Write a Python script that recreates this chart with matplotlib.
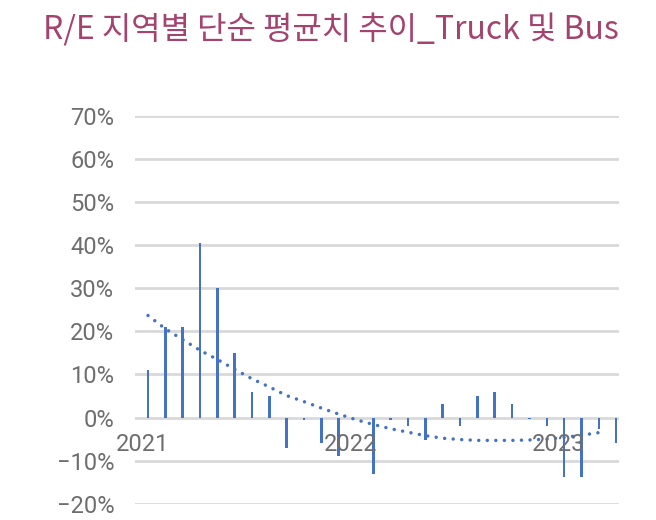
import numpy as np
import matplotlib
matplotlib.use('Agg')
import matplotlib.pyplot as plt
from matplotlib.ticker import FuncFormatter

plt.rcParams['font.family'] = ['Roboto', 'DejaVu Sans']

# monthly simple average, 2021-01 .. 2023-04 (%)
values = [11, 21, 21, 40.6, 30, 15, 6, 5,
          -7, -0.5, -5.8, -9, 0, -13, -0.6, -2, -5.2, 3.1,
          -1.9, 4.9, 6, 3.1, -0.3, -1.9, -13.8, -13.8, -2.7, -5.8]
# polynomial trend line read at each month
trend = [23.7, 20.6, 18.1, 15.6, 13.5, 11.2, 9.0, 7.1, 5.1, 3.7,
         2.2, 0.8, -0.5, -1.6, -2.6, -3.4, -4.2, -4.8, -5.1, -5.3,
         -5.3, -5.3, -5.2, -5.0, -4.6, -4.1, -3.5]
year_labels = ['2021', '2022', '2023']
year_start = [0, 12, 24]

blue = '#4472C4'
grey = '#D9D9D9'
text_grey = '#6E6E6E'

fig = plt.figure(figsize=(6.56, 5.2), dpi=100)
ax = fig.add_axes([0.2058, 0.0313, 0.7378, 0.7456])

x = np.arange(len(values))
ax.bar(x, np.array(values) / 100, width=0.14, color=blue, zorder=3)
ax.plot(np.arange(len(trend)), np.array(trend) / 100, color=blue,
        lw=2.5, linestyle=(0, (0.01, 2.45)), dash_capstyle='round', zorder=4)

ax.set_xlim(-0.75, 27.17)
ax.set_ylim(-0.2, 0.7)
ax.set_yticks(np.arange(-0.2, 0.71, 0.1))
ax.yaxis.set_major_formatter(FuncFormatter(
    lambda v, p: f'{round(v * 100):d}%'.replace('-', '\u2212')))
ax.tick_params(axis='y', length=0, pad=15, labelsize=17, labelcolor=text_grey)
ax.set_xticks([])
ax.grid(axis='y', color=grey, lw=2, zorder=0)
for s in ax.spines.values():
    s.set_visible(False)

for lbl, m in zip(year_labels, year_start):
    ax.text(m - 0.3, -0.063, lbl, ha='center', va='center',
            fontsize=17, color=text_grey, zorder=5)

fig.text(331 / 656, 1 - 30 / 520, 'R/E 지역별 단순 평균치 추이_Truck 및 Bus',
         ha='center', va='center', fontsize=23, color='#A5436F',
         family=['Noto Sans CJK KR', 'DejaVu Sans'])

fig.savefig('out.png', dpi=100)
